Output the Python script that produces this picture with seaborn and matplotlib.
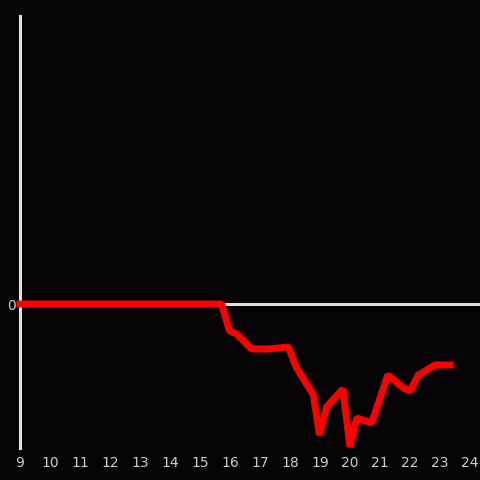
import matplotlib
matplotlib.use("Agg")
import matplotlib.pyplot as plt
import seaborn as sns
import pandas as pd

# --- data ---
hours = [9.0, 10.0, 11.0, 12.0, 13.0, 14.0, 15.0, 15.72, 15.98, 16.22, 16.72,
         17.25, 17.94, 18.22, 18.78, 18.98, 19.22, 19.76, 20.0, 20.22,
         20.72, 21.26, 21.78, 22.0, 22.28, 22.83, 23.33]
values = [0, 0, 0, 0, 0, 0, 0, 0, -2.67, -3.0, -4.5,
          -4.5, -4.3, -6.4, -9.1, -13.1, -10.3, -8.5, -14.3, -11.4,
          -11.9, -7.1, -8.4, -8.7, -7.1, -6.1, -6.1]
x_ticks = list(range(9, 25))

df = pd.DataFrame({"hour": hours, "value": values})

bg = "#050306"
sns.set_theme(style="dark", rc={"axes.facecolor": bg, "figure.facecolor": bg})

fig = plt.figure(figsize=(4.8, 4.8), dpi=100)
ax = fig.add_axes([20 / 480, 32 / 480, 460 / 480, 432 / 480])

ax.axhline(0, color="#e0e0e0", lw=2.2, zorder=1)
sns.lineplot(data=df, x="hour", y="value", color="#ff0000", lw=5,
             solid_joinstyle="bevel", solid_capstyle="projecting",
             ax=ax, zorder=3, clip_on=False)

ax.set_xlim(9, 24 + 1 / 3)
ax.set_ylim(-14.4, 28.8)
ax.set_xticks(x_ticks)
ax.set_yticks([0])
ax.set_xlabel("")
ax.set_ylabel("")
ax.grid(False)

for side in ["top", "right", "bottom"]:
    ax.spines[side].set_visible(False)
ax.spines["left"].set_color("#e0e0e0")
ax.spines["left"].set_linewidth(2.2)

ax.tick_params(axis="both", length=0, colors="#cccccc", labelsize=10)
ax.tick_params(axis="x", pad=6)
ax.tick_params(axis="y", pad=3)

plt.savefig("out.png", dpi=100, facecolor=bg)
